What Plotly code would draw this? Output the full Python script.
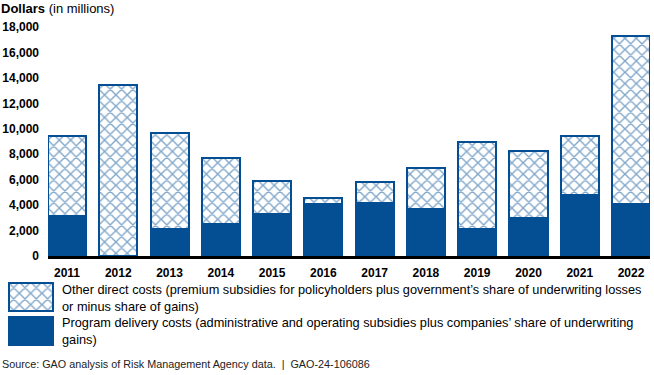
import plotly.graph_objects as go

years = ["2011", "2012", "2013", "2014", "2015", "2016", "2017", "2018", "2019", "2020", "2021", "2022"]
program_delivery = [3130, 0, 2160, 2550, 3320, 4090, 4140, 3670, 2100, 3010, 4800, 4060]
other_direct = [6290, 13430, 7470, 5190, 2580, 450, 1700, 3220, 6840, 5270, 4630, 13240]
y_ticks = [0, 2000, 4000, 6000, 8000, 10000, 12000, 14000, 16000, 18000]

other_label = ("Other direct costs (premium subsidies for policyholders plus government\u2019s share of underwriting losses"
               "<br>or minus share of gains)")
program_label = ("Program delivery costs (administrative and operating subsidies plus companies\u2019 share of underwriting"
                 "<br>gains)")
source_text = "Source: GAO analysis of Risk Management Agency data.  |  GAO-24-106086"

BLUE = "#044f94"
FONT = "Liberation Sans, Arial, sans-serif"
W, H = 654, 375

def px_x(a, b):
    return [a / W, b / W]

def px_y(top, bottom):
    return [(H - bottom) / H, (H - top) / H]

hatch = dict(shape="x", fgcolor=BLUE, bgcolor="white", size=8, solidity=0.32, fillmode="overlay")

fig = go.Figure()
fig.add_trace(go.Bar(x=years, y=program_delivery, marker=dict(color=BLUE, line=dict(color=BLUE, width=2)),
                     showlegend=False, xaxis="x", yaxis="y"))
fig.add_trace(go.Bar(x=years, y=other_direct,
                     marker=dict(color="white", pattern=hatch, line=dict(color=BLUE, width=2)),
                     showlegend=False, xaxis="x", yaxis="y"))

# legend swatches
fig.add_trace(go.Bar(x=[0], y=[1], width=[1], marker=dict(color="white", pattern=hatch, line=dict(color=BLUE, width=2)),
                     showlegend=False, xaxis="x2", yaxis="y2", hoverinfo="skip"))
fig.add_trace(go.Bar(x=[0], y=[1], width=[1], marker=dict(color=BLUE, line=dict(color=BLUE, width=2)),
                     showlegend=False, xaxis="x3", yaxis="y3", hoverinfo="skip"))

swatch_axis = dict(visible=False, fixedrange=True, automargin=False)
fig.update_layout(
    template="none",
    width=W, height=H, autosize=False,
    margin=dict(l=0, r=0, t=0, b=0, pad=0),
    paper_bgcolor="white", plot_bgcolor="white",
    barmode="stack", bargap=0.258,
    font=dict(family=FONT, color="black"),
    xaxis=dict(type="category", domain=px_x(48, 650), range=[-0.37, 11.37], showline=True, linecolor="black",
               linewidth=3, showgrid=False, zeroline=False, ticks="", ticklabelstandoff=4, automargin=False,
               tickfont=dict(size=12, weight="bold", family=FONT, color="black")),
    yaxis=dict(domain=px_y(27, 256), range=[0, 18000], tickvals=y_ticks, tickformat=",", showgrid=False,
               zeroline=False, showline=False, ticks="", ticklabelstandoff=8, automargin=False,
               tickfont=dict(size=12, weight="bold", family=FONT, color="black")),
    xaxis2=dict(domain=px_x(8, 54), range=[-0.52, 0.52], anchor="y2", **swatch_axis),
    yaxis2=dict(domain=px_y(282, 312), range=[-0.03, 1.03], anchor="x2", **swatch_axis),
    xaxis3=dict(domain=px_x(8, 54), range=[-0.52, 0.52], anchor="y3", **swatch_axis),
    yaxis3=dict(domain=px_y(316, 346), range=[-0.03, 1.03], anchor="x3", **swatch_axis),
    annotations=[
        dict(text="<b>Dollars</b> (in millions)", x=0, y=1, xref="paper", yref="paper", borderpad=0,
             xanchor="left", yanchor="top", showarrow=False, font=dict(size=13, family=FONT, color="black")),
        dict(text=other_label, x=60 / W, y=(H - 297.5) / H, xref="paper", yref="paper", align="left",
             xanchor="left", yanchor="middle", showarrow=False, font=dict(size=12.75, family=FONT, color="black")),
        dict(text=program_label, x=60 / W, y=(H - 331) / H, xref="paper", yref="paper", align="left",
             xanchor="left", yanchor="middle", showarrow=False, font=dict(size=12.75, family=FONT, color="black")),
        dict(text=source_text, x=0, y=(H - 364) / H, xref="paper", yref="paper",
             xanchor="left", yanchor="middle", showarrow=False, font=dict(size=10.8, family=FONT, color="#222")),
    ],
)

fig.write_html("out.html", config={"displayModeBar": False, "staticPlot": True},
               post_script="document.body.style.margin='0';document.body.style.padding='0';")
